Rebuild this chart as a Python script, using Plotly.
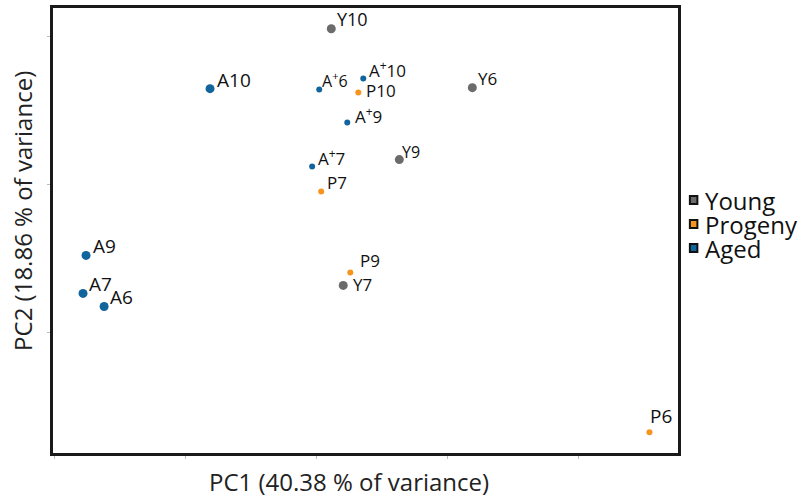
import plotly.graph_objects as go

# PCA scores per sample (PC1, PC2)
young_labels = ["Y10", "Y6", "Y9", "Y7"]
young_pc1 = [-8.85, 1.91, -3.66, -7.94]
young_pc2 = [10.5, 6.53, 1.68, -6.80]

progeny_labels = ["P10", "P7", "P9", "P6"]
progeny_pc1 = [-6.79, -9.62, -7.40, 15.42]
progeny_pc2 = [6.20, -0.47, -5.93, -16.70]

aged_labels = ["A10", "A<sup>+</sup>6", "A<sup>+</sup>10", "A<sup>+</sup>9",
               "A<sup>+</sup>7", "A9", "A7", "A6"]
aged_pc1 = [-18.1, -9.77, -6.41, -7.63, -10.31, -27.56, -27.79, -26.18]
aged_pc2 = [6.46, 6.40, 7.14, 4.18, 1.21, -4.78, -7.34, -8.22]

group_names = ["Young", "Progeny", "Aged"]
group_colors = ["#6b6b6b", "#f7941d", "#11649c"]

FONT = "Open Sans"
INK = "#111111"

# sample-label placement: (dx, dy) in px from the marker, and font size
LABEL_DEFAULT = (4, -9, 17)
LABEL_STYLE = {
    "Y10": (4, -10, 18),
    "A10": (5, -9, 19),
    "A9": (5, -9, 19),
    "A7": (4, -9, 19),
    "A6": (4, -9, 19),
    "P6": (-1, -16, 19),
    "P10": (6, -2, 17),
    "Y7": (8, -1, 17),
    "P9": (8, -12, 17),
    "Y9": (1, -8, 16),
    "A<sup>+</sup>6": (1, -10, 16),
    "A<sup>+</sup>9": (6, -7, 17),
}

fig = go.Figure()
annotations = []


def add_group(labels, xs, ys, color, sizes):
    fig.add_trace(go.Scatter(
        x=xs, y=ys, text=labels, mode="markers",
        marker=dict(color=color, size=sizes, opacity=1, line=dict(width=0)),
        showlegend=False, hoverinfo="text",
    ))
    for lab, x, y in zip(labels, xs, ys):
        dx, dy, fs = LABEL_STYLE.get(lab, LABEL_DEFAULT)
        annotations.append(dict(
            x=x, y=y, xref="x", yref="y", text=lab, showarrow=False,
            xanchor="left", yanchor="middle", xshift=dx, yshift=-dy,
            font=dict(family=FONT, size=fs, color=INK),
        ))


add_group(young_labels, young_pc1, young_pc2, group_colors[0], 9)
add_group(progeny_labels, progeny_pc1, progeny_pc2, group_colors[1], 6)
add_group(aged_labels, aged_pc1, aged_pc2, group_colors[2],
          [6 if "+" in t else 9 for t in aged_labels])

axis_common = dict(
    showgrid=False, zeroline=False, showticklabels=False,
    showline=True, linecolor="#1a1a1a", linewidth=3, mirror=True,
    ticks="outside", ticklen=3, tickcolor="#bbbbbb", tickwidth=1,
)

annotations += [
    dict(text="PC1 (40.38 % of variance)", xref="paper", yref="paper",
         x=0.474, y=-0.065, xanchor="center", yanchor="middle",
         showarrow=False, font=dict(family=FONT, size=24, color="#222222")),
    dict(text="PC2 (18.86 % of variance)", xref="paper", yref="paper",
         x=-0.048, y=0.544, xanchor="center", yanchor="middle", textangle=-90,
         showarrow=False, font=dict(family=FONT, size=24, color="#222222")),
]

# compact legend: outlined squares with group names beside them
shapes = []
for i, (name, color) in enumerate(zip(group_names, group_colors)):
    yc = 0.5685 - i * 0.054
    shapes.append(dict(type="rect", xref="paper", yref="paper",
                       x0=1.019, x1=1.031, y0=yc - 0.009, y1=yc + 0.009,
                       fillcolor=color, line=dict(color=INK, width=2)))
    annotations.append(dict(text=name, xref="paper", yref="paper",
                            x=1.04, y=yc, xanchor="left", yanchor="middle",
                            showarrow=False,
                            font=dict(family=FONT, size=24, color=INK)))

fig.update_layout(
    width=799, height=499,
    margin=dict(l=53, r=121, t=8, b=46, autoexpand=False),
    paper_bgcolor="white", plot_bgcolor="white",
    showlegend=False,
    font=dict(family=FONT, color="#222222"),
    xaxis=dict(range=[-30.08, 17.6], dtick=10, tick0=0, **axis_common),
    yaxis=dict(range=[-18.1, 11.9], dtick=10, tick0=0, **axis_common),
    annotations=annotations,
    shapes=shapes,
)

fig.write_html("out.html")
